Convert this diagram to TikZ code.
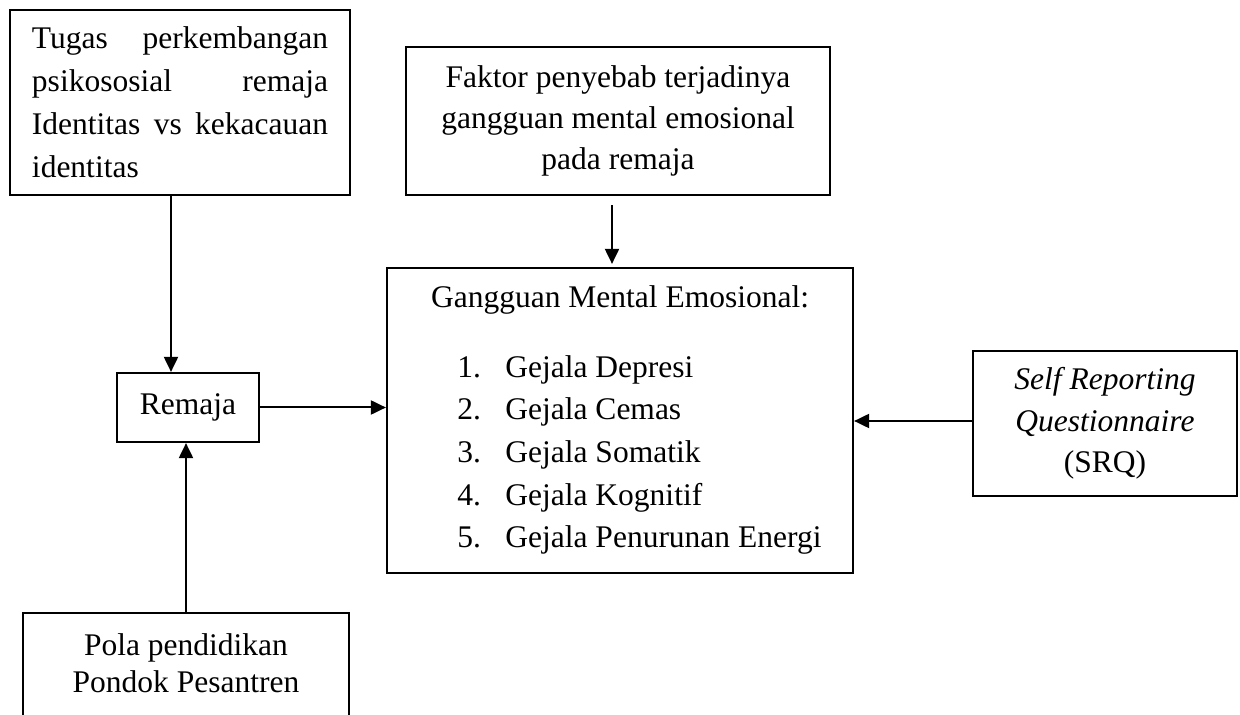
\documentclass[tikz,border=0pt]{standalone}
\usepackage{fontspec}
\setmainfont{Liberation Serif}
\usetikzlibrary{arrows.meta}
\newcommand\dfs{\fontsize{15.75pt}{21.5pt}\selectfont}
\newcommand\jline[1]{\leavevmode\hbox to 148pt{#1}}
\begin{document}
\begin{tikzpicture}[x=0.5pt,y=-0.5pt,
  box/.style={draw, line width=1.1pt, inner sep=0pt, font=\dfs},
  txt/.style={inner sep=0pt, font=\dfs},
  conn/.style={line width=1pt, -{Triangle[length=7.5pt,width=7pt]}}]
\useasboundingbox (0,0) rectangle (1240,715);
\clip (0,0) rectangle (1240,715);
% boxes
\node[box, minimum width=170pt, minimum height=92.5pt, text width=148pt, align=left] (tugas) at (180,102.5)
  {\jline{Tugas\hfill perkembangan}\\
   \jline{psikososial\hfill remaja}\\
   \jline{Identitas\hfill vs\hfill kekacauan}\\
   identitas};
\node[box, minimum width=212pt, minimum height=74pt, align=center, font=\fontsize{15.75pt}{20.5pt}\selectfont] (faktor) at (618,121)
  {Faktor penyebab terjadinya\\gangguan mental emosional\\pada remaja};
\node[box, minimum width=71pt, minimum height=34.5pt] (remaja) at (188,407.5) {Remaja};
\node[box, minimum width=132pt, minimum height=72.5pt, align=center, font=\fontsize{15.75pt}{20.75pt}\selectfont] (srq) at (1105,423.5)
  {\textit{Self Reporting}\\\textit{Questionnaire}\\(SRQ)};
\node[box, minimum width=233pt, minimum height=152.5pt] (gme) at (620,420.5) {};
\node[txt, anchor=base] (gmeh) at (620,308) {Gangguan Mental Emosional:};
\node[txt, anchor=base west] (n1) at (457,378) {1.};
\node[txt, anchor=base west] (n2) at (457,420) {2.};
\node[txt, anchor=base west] (n3) at (457,462) {3.};
\node[txt, anchor=base west] (n4) at (457,505) {4.};
\node[txt, anchor=base west] (n5) at (457,547) {5.};
\node[txt, anchor=base west] (g1) at (505,378) {Gejala Depresi};
\node[txt, anchor=base west] (g2) at (505,420) {Gejala Cemas};
\node[txt, anchor=base west] (g3) at (505,462) {Gejala Somatik};
\node[txt, anchor=base west] (g4) at (505,505) {Gejala Kognitif};
\node[txt, anchor=base west] (g5) at (505,547) {Gejala Penurunan Energi};
\node[box, minimum width=163pt, minimum height=73.5pt] (pola) at (186,686.5) {};
\node[txt, anchor=base] (pola1) at (186,655) {Pola pendidikan};
\node[txt, anchor=base] (pola2) at (186,692) {Pondok Pesantren};
% connectors
\draw[conn] ([xshift=-4.5pt]tugas.south) -- ([xshift=-4.5pt]tugas.south |- remaja.north);
\draw[conn] (pola.north) -- (pola.north |- remaja.south);
\draw[conn] (remaja.east) -- (remaja.east -| gme.west);
\draw[conn, shorten <=4.5pt, shorten >=1.5pt] ([xshift=-3pt]faktor.south) -- ([xshift=-3pt]faktor.south |- gme.north);
\draw[conn] ([yshift=1.25pt]srq.west) -- ([yshift=1.25pt]srq.west -| gme.east);
\end{tikzpicture}
\end{document}
